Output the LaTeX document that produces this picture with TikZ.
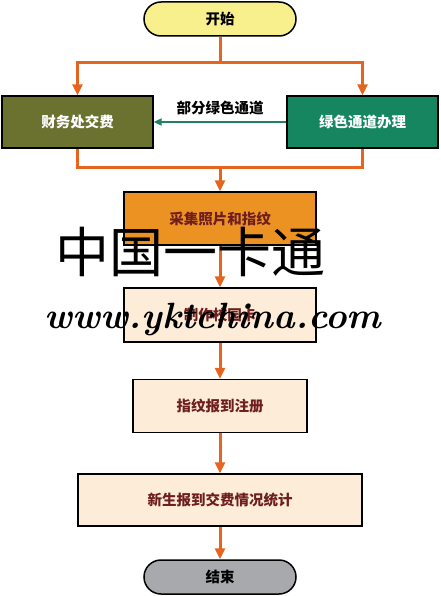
\documentclass[tikz,border=0pt]{standalone}
\usepackage{fontspec}
\newfontfamily\cjk{Noto Sans CJK SC}
\usetikzlibrary{arrows.meta}
\definecolor{startfill}{RGB}{247,240,140}
\definecolor{olivefill}{RGB}{107,114,48}
\definecolor{greenfill}{RGB}{22,134,96}
\definecolor{orangefill}{RGB}{236,146,34}
\definecolor{peachfill}{RGB}{252,236,216}
\definecolor{flowcol}{RGB}{229,100,30}
\definecolor{endfill}{RGB}{168,169,173}
\definecolor{darktext}{RGB}{110,30,30}
\definecolor{greenline}{RGB}{30,130,100}
\tikzset{
  pill/.style={draw=black, line width=1.5pt, rounded corners=17pt, minimum width=152pt, minimum height=34pt, inner sep=0pt, font=\cjk\bfseries\fontsize{14.5}{16}\selectfont},
  box/.style={draw=black, line width=1.3pt, inner sep=0pt, font=\cjk\bfseries\fontsize{14.5}{16}\selectfont},
  flow/.style={draw=flowcol, line width=3pt},
  flowarrow/.style={flow, -{Triangle[width=10pt,length=11pt]}},
  greenarrow/.style={draw=greenline, line width=1.8pt, -{Triangle[width=7pt,length=8pt]}},
  wm/.style={inner sep=0pt, text=black}
}
\begin{document}
\begin{tikzpicture}[x=1pt,y=-1pt]
\useasboundingbox (0,0) rectangle (440,596);
\node[pill, fill=startfill] (start) at (220,19) {开始};
\node[box, fill=olivefill, text=white, minimum width=151pt, minimum height=52pt] (fin) at (77.5,122) {财务处交费};
\node[box, fill=greenfill, text=white, minimum width=151pt, minimum height=52pt] (green) at (362.5,122) {绿色通道办理};
\node[box, fill=orangefill, text=darktext, minimum width=192pt, minimum height=53pt] (collect) at (220,218.5) {采集照片和指纹};
\node[box, fill=peachfill, text=darktext, minimum width=192pt, minimum height=54pt] (make) at (220,315) {制作校园卡};
\node[box, fill=peachfill, text=darktext, minimum width=174pt, minimum height=53pt] (reg) at (220,406) {指纹报到注册};
\node[box, fill=peachfill, text=darktext, minimum width=284pt, minimum height=52pt] (stat) at (220,500) {新生报到交费情况统计};
\node[pill, fill=endfill, text=black] (end) at (220,577) {结束};

\coordinate (split) at (220,63);
\coordinate (merge) at (220,167);
\draw[flow] (start.south) -- (split);
\draw[flowarrow] (split) -| (fin.north);
\draw[flowarrow] (split) -| (green.north);
\draw[greenarrow] (green.west) -- node[above=3pt, font=\cjk\bfseries\fontsize{14.5}{16}\selectfont, text=black] (lbl) {部分绿色通道} (fin.east);
\draw[flow] (fin.south) |- (merge);
\draw[flow] (green.south) |- (merge);
\draw[flowarrow] (merge) -- (collect.north);
\draw[flowarrow] (collect.south) -- (make.north);
\draw[flowarrow] (make.south) -- (reg.north);
\draw[flowarrow] (reg.south) -- (stat.north);
\draw[flowarrow] (stat.south) -- (end.north);

\node[wm, font=\cjk\fontsize{54}{56}\selectfont] (wm1) at (190,252) {中国一卡通};
\node[wm, font=\bfseries\itshape\fontsize{36.5}{40}\selectfont] (wm2) at (213,320) {www.yktchina.com};
\end{tikzpicture}
\end{document}
